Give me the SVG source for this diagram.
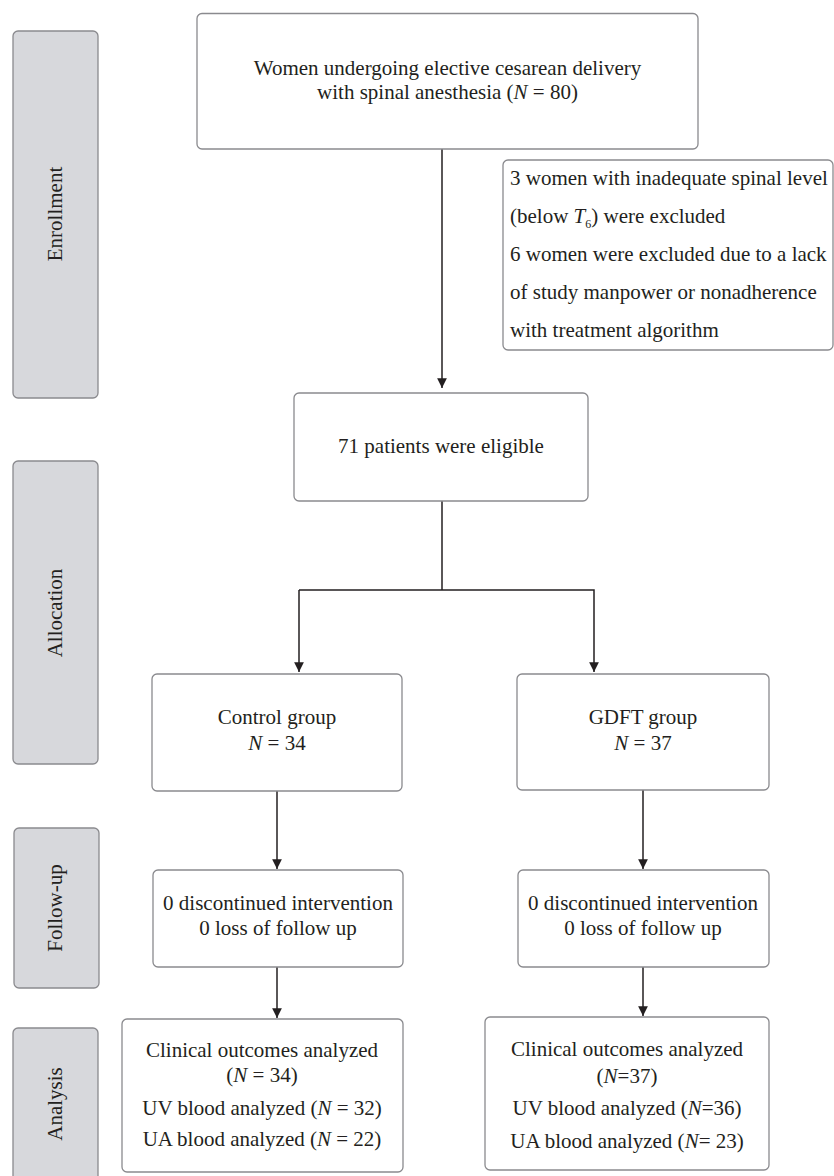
<svg xmlns="http://www.w3.org/2000/svg" width="834" height="1176" viewBox="0 0 834 1176">
<style>
.side{fill:#d7d8dc;stroke:#8a8a8e;stroke-width:1.3}
.box{fill:#fff;stroke:#8a8a8e;stroke-width:1.3}
text{font-family:"Liberation Serif","Times New Roman",serif;font-size:21px;fill:#231f20}
.c{text-anchor:middle}
.conn{fill:none;stroke:#231f20;stroke-width:1.5}
</style>
<defs>
<marker id="ah" viewBox="0 0 10 10" refX="10" refY="5" markerWidth="6.5" markerHeight="6.5" markerUnits="strokeWidth" orient="auto">
<path d="M0,0 L10,5 L0,10 z" fill="#231f20"/>
</marker>
</defs>
<g id="side-enrollment"><rect class="side" x="13" y="31" width="85" height="367" rx="5"/><text class="c" transform="translate(62,214) rotate(-90)">Enrollment</text></g>
<g id="side-allocation"><rect class="side" x="13" y="461" width="85" height="303" rx="5"/><text class="c" transform="translate(62,613) rotate(-90)">Allocation</text></g>
<g id="side-followup"><rect class="side" x="14" y="828" width="85" height="160" rx="5"/><text class="c" transform="translate(62,908) rotate(-90)">Follow-up</text></g>
<g id="side-analysis"><rect class="side" x="13" y="1028" width="85" height="160" rx="5"/><text class="c" transform="translate(62,1104) rotate(-90)">Analysis</text></g>

<g id="connectors">
<line class="conn" x1="442" y1="149" x2="442" y2="388" marker-end="url(#ah)"/>
<polyline class="conn" points="442,501 442,590"/>
<polyline class="conn" points="299,590 594,590 594,672" marker-end="url(#ah)"/>
<line class="conn" x1="299" y1="590" x2="299" y2="672" marker-end="url(#ah)"/>
<line class="conn" x1="277" y1="791" x2="277" y2="869" marker-end="url(#ah)"/>
<line class="conn" x1="643" y1="790" x2="643" y2="869" marker-end="url(#ah)"/>
<line class="conn" x1="277" y1="967" x2="277" y2="1018" marker-end="url(#ah)"/>
<line class="conn" x1="643" y1="967" x2="643" y2="1016" marker-end="url(#ah)"/>
</g>

<g id="n-women"><rect class="box" x="197" y="13.5" width="501" height="135.5" rx="5"/>
<text class="c" x="447.5" y="75">Women undergoing elective cesarean delivery</text>
<text class="c" x="447.5" y="99">with spinal anesthesia (<tspan font-style="italic">N</tspan> = 80)</text></g>

<g id="n-excluded"><rect class="box" x="503" y="160" width="330" height="190" rx="5"/>
<text x="510" y="185">3 women with inadequate spinal level</text>
<text x="510" y="223">(below <tspan font-style="italic">T</tspan><tspan font-size="12" dy="5">6</tspan><tspan dy="-5">) were excluded</tspan></text>
<text x="510" y="261">6 women were excluded due to a lack</text>
<text x="510" y="299">of study manpower or nonadherence</text>
<text x="510" y="337">with treatment algorithm</text></g>

<g id="n-eligible"><rect class="box" x="294" y="393" width="294" height="108" rx="5"/>
<text class="c" x="441" y="453">71 patients were eligible</text></g>

<g id="n-control"><rect class="box" x="152" y="674" width="250" height="117" rx="5"/>
<text class="c" x="277" y="724">Control group</text>
<text class="c" x="277" y="750"><tspan font-style="italic">N</tspan> = 34</text></g>

<g id="n-gdft"><rect class="box" x="517" y="674" width="252" height="116" rx="5"/>
<text class="c" x="643" y="724">GDFT group</text>
<text class="c" x="643" y="750"><tspan font-style="italic">N</tspan> = 37</text></g>

<g id="n-fu-control"><rect class="box" x="153" y="870" width="250" height="97" rx="5"/>
<text class="c" x="278" y="910">0 discontinued intervention</text>
<text class="c" x="278" y="935">0 loss of follow up</text></g>

<g id="n-fu-gdft"><rect class="box" x="518" y="870" width="251" height="97" rx="5"/>
<text class="c" x="643" y="910">0 discontinued intervention</text>
<text class="c" x="643" y="935">0 loss of follow up</text></g>

<g id="n-an-control"><rect class="box" x="122" y="1019" width="281" height="153" rx="5"/>
<text class="c" x="262" y="1057">Clinical outcomes analyzed</text>
<text class="c" x="262" y="1082">(<tspan font-style="italic">N</tspan> = 34)</text>
<text class="c" x="262" y="1115">UV blood analyzed (<tspan font-style="italic">N</tspan> = 32)</text>
<text class="c" x="262" y="1146">UA blood analyzed (<tspan font-style="italic">N</tspan> = 22)</text></g>

<g id="n-an-gdft"><rect class="box" x="485" y="1017" width="284" height="153" rx="5"/>
<text class="c" x="627" y="1056">Clinical outcomes analyzed</text>
<text class="c" x="627" y="1083">(<tspan font-style="italic">N</tspan>=37)</text>
<text class="c" x="627" y="1115">UV blood analyzed (<tspan font-style="italic">N</tspan>=36)</text>
<text class="c" x="627" y="1148">UA blood analyzed (<tspan font-style="italic">N</tspan>= 23)</text></g>
</svg>
